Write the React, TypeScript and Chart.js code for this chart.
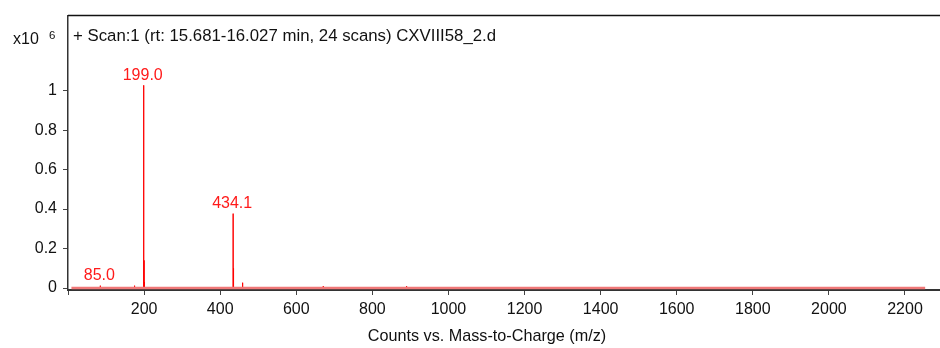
import React, { useEffect, useRef } from "react";
import { Chart, registerables } from "chart.js";

Chart.register(...registerables);

// ---- data (intensity in counts x10^6) ----
const peakMz = [85.0, 175.0, 199.0, 200.0, 201.0, 434.1, 435.1, 459.0, 671.0, 890.0];
const peakIntensity = [0.012, 0.012, 1.027, 0.14, 0.03, 0.377, 0.1, 0.027, 0.01, 0.01];
const baselineMz = [9, 2253];
const baselineIntensity = [0.0, 0.0];
const labelMz = [199.0, 434.1, 85.0];
const labelIntensity = [1.027, 0.377, 0.012];
const labelText = ["199.0", "434.1", "85.0"];
const xTicks = [0, 200, 400, 600, 800, 1000, 1200, 1400, 1600, 1800, 2000, 2200];
const yTicks = [0, 0.2, 0.4, 0.6, 0.8, 1];
const yTickLabels = ["0", "0.2", "0.4", "0.6", "0.8", "1"];
const scanTitle = "+ Scan:1 (rt: 15.681-16.027 min, 24 scans) CXVIII58_2.d";
const xAxisTitle = "Counts vs. Mass-to-Charge (m/z)";
const yExponentBase = "x10";
const yExponent = "6";

const FONT = "'Liberation Sans', Arial, sans-serif";

const textPlugin = {
  id: "msText",
  afterDraw(chart: any) {
    const ctx = chart.ctx;
    const area = chart.chartArea;
    const xs = chart.scales.x;
    const ys = chart.scales.y;
    ctx.save();
    // top frame line
    ctx.strokeStyle = "#111";
    ctx.lineWidth = 1.5;
    ctx.beginPath();
    ctx.moveTo(area.left, area.top);
    ctx.lineTo(area.right, area.top);
    ctx.stroke();
    // scan title
    ctx.fillStyle = "#111";
    ctx.font = `16.8px ${FONT}`;
    ctx.textAlign = "left";
    ctx.textBaseline = "middle";
    ctx.fillText(scanTitle, area.left + 5, area.top + 21);
    // exponent
    ctx.font = `16px ${FONT}`;
    ctx.fillText(yExponentBase, 13, 40);
    ctx.font = `11.5px ${FONT}`;
    ctx.fillText(yExponent, 49, 36);
    // x axis title
    ctx.font = `16.2px ${FONT}`;
    ctx.textAlign = "center";
    ctx.fillText(xAxisTitle, 487, 337);
    // peak labels
    ctx.fillStyle = "#ff1a1a";
    ctx.font = `16px ${FONT}`;
    ctx.textAlign = "center";
    for (let i = 0; i < labelMz.length; i++) {
      const px = xs.getPixelForValue(labelMz[i]);
      const py = ys.getPixelForValue(labelIntensity[i]);
      ctx.fillText(labelText[i], px - 1, py - 10);
    }
    ctx.restore();
  },
};

export default function App() {
  const ref = useRef<HTMLCanvasElement | null>(null);
  useEffect(() => {
    if (!ref.current) return;
    const peakPoints: any[] = [];
    for (let i = 0; i < peakMz.length; i++) {
      peakPoints.push({ x: peakMz[i], y: 0 });
      peakPoints.push({ x: peakMz[i], y: peakIntensity[i] });
      peakPoints.push({ x: peakMz[i], y: 0 });
      peakPoints.push({ x: peakMz[i], y: null });
    }
    const basePoints = baselineMz.map((m, i) => ({ x: m, y: baselineIntensity[i] }));
    const chart = new Chart(ref.current, {
      type: "line",
      data: {
        datasets: [
          {
            data: basePoints,
            borderColor: "rgb(240,120,120)",
            borderWidth: 2.5,
            pointRadius: 0,
            tension: 0,
          },
          {
            data: peakPoints,
            borderColor: "#ff0000",
            borderWidth: 1,
            pointRadius: 0,
            tension: 0,
            spanGaps: false,
          },
        ],
      },
      options: {
        animation: false,
        responsive: false,
        maintainAspectRatio: false,
        layout: { padding: { top: 12, right: 0, left: 0, bottom: 0 } },
        plugins: { legend: { display: false }, tooltip: { enabled: false } },
        scales: {
          x: {
            type: "linear",
            min: 0,
            max: 2292,
            afterBuildTicks: (s: any) => {
              s.ticks = xTicks.map((v) => ({ value: v }));
            },
            afterFit: (s: any) => {
              s.height = 58;
            },
            grid: { drawOnChartArea: false, drawTicks: true, tickLength: 5, color: "#444" },
            border: { display: true, color: "#333", width: 2 },
            ticks: {
              font: { family: FONT, size: 16 },
              color: "#111",
              padding: 5,
              maxRotation: 0,
              autoSkip: false,
              callback: (v: any) => (v === 0 ? "" : String(v)),
            },
            title: { display: false },
          },
          y: {
            type: "linear",
            min: -0.01,
            max: 1.38,
            afterBuildTicks: (s: any) => {
              s.ticks = yTicks.map((v) => ({ value: v }));
            },
            afterFit: (s: any) => {
              s.width = 68;
            },
            grid: { drawOnChartArea: false, drawTicks: true, tickLength: 5, color: "#444" },
            border: { display: true, color: "#333", width: 1.5 },
            ticks: {
              font: { family: FONT, size: 16 },
              color: "#111",
              padding: 6,
              autoSkip: false,
              callback: (v: any) => {
                const i = yTicks.indexOf(v);
                return i >= 0 ? yTickLabels[i] : "";
              },
            },
          },
        },
      },
      plugins: [textPlugin],
    });
    return () => chart.destroy();
  }, []);
  return (
    <div style={{ position: "fixed", left: 0, top: 0, width: 940, height: 348, background: "#fff" }}>
      <canvas ref={ref} width={940} height={348} style={{ width: 940, height: 348, display: "block" }} />
    </div>
  );
}
